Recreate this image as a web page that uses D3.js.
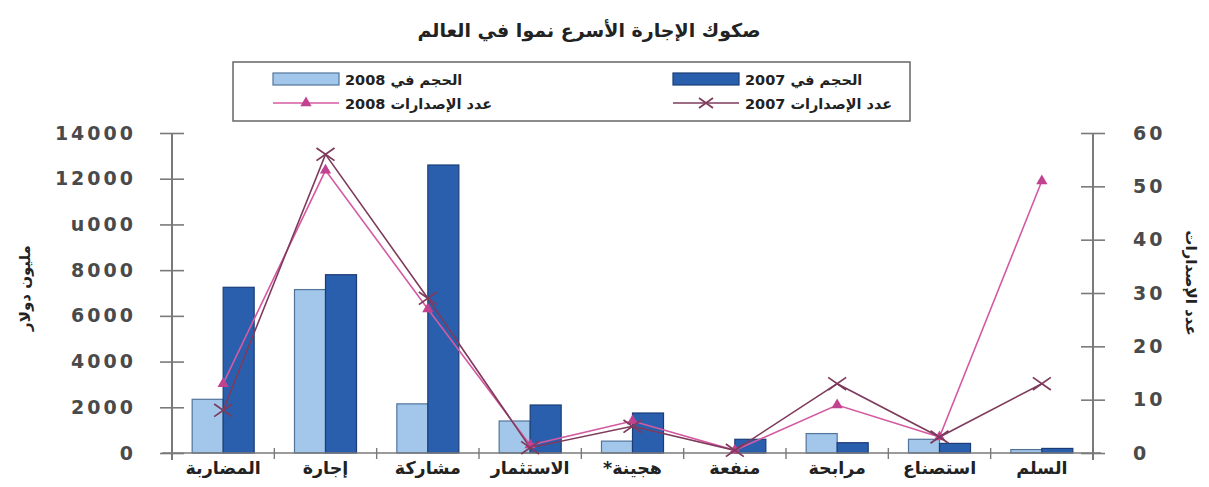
<!DOCTYPE html>
<html><head><meta charset="utf-8">
<script src="https://cdn.jsdelivr.net/npm/d3@7"></script>
<style>body{margin:0;background:#fff}svg{display:block}</style>
</head><body>
<svg id="chart" width="1209" height="487"></svg>
<script>
// Sukuk categories (left to right) and their values
const categories = ["المضاربة", "إجارة", "مشاركة", "الاستثمار", "هجينة*", "منفعة", "مرابحة", "استصناع", "السلم"];
const volume2008 = [2350, 7150, 2150, 1400, 520, 0, 850, 600, 150];
const volume2007 = [7250, 7800, 12600, 2100, 1750, 600, 450, 420, 200];
const issues2007 = [8, 56, 29, 1, 5, 0.5, 13, 3, 13];
const issues2008 = [13, 53, 27, 1.5, 6, 0.5, 9, 3, 51];
const leftTicks = [0, 2000, 4000, 6000, 8000, 10000, 12000, 14000];
const leftTickLabels = ["0", "2000", "4000", "6000", "8000", "u000", "12000", "14000"];
const rightTicks = [0, 10, 20, 30, 40, 50, 60];

const title = "صكوك الإجارة الأسرع نموا في العالم";
const leftTitle = "مليون دولار";
const rightTitle = "عدد الإصدارات";
const legendItems = [
  {key: "v2008", label: "الحجم في 2008"},
  {key: "v2007", label: "الحجم في 2007"},
  {key: "i2008", label: "عدد الإصدارات 2008"},
  {key: "i2007", label: "عدد الإصدارات 2007"}
];

const C = {
  light: "#a2c7ea", lightEdge: "#52749a",
  dark: "#2a5fae", darkEdge: "#1c3c78",
  line07: "#7e3b5c", line08: "#d45aa2", mark08: "#c2428f",
  axis: "#7a7a7a", tickText: "#4a4a4a", text: "#222"
};

const svg = d3.select("#chart");
const plotL = 172, plotR = 1093, plotT = 133, plotB = 453;
const font = "'DejaVu Sans', sans-serif";

const x = d3.scaleBand().domain(categories).range([plotL, plotR]);
const x1 = d3.scaleBand().domain(["v2008", "v2007"]).range([0, x.bandwidth()]).paddingOuter(0.65);
const yL = d3.scaleLinear().domain([0, 14000]).range([plotB, plotT]);
const yR = d3.scaleLinear().domain([0, 60]).range([plotB, plotT]);
const cx = d => x(d) + x.bandwidth() / 2;

// title
svg.append("text").attr("x", 589).attr("y", 37).attr("text-anchor", "middle")
  .attr("direction", "rtl").attr("font-family", font).attr("font-weight", "bold")
  .attr("font-size", 19).attr("fill", C.text).text(title);

// bars
const g = svg.append("g");
categories.forEach((c, i) => {
  [["v2008", volume2008[i], C.light, C.lightEdge], ["v2007", volume2007[i], C.dark, C.darkEdge]].forEach(([k, v, f, s]) => {
    if (v <= 0) return;
    g.append("rect")
      .attr("x", x(c) + x1(k)).attr("width", x1.bandwidth())
      .attr("y", yL(v)).attr("height", yL(0) - yL(v))
      .attr("fill", f).attr("stroke", s).attr("stroke-width", 1.2);
  });
});

// left axis
const axL = svg.append("g").attr("transform", `translate(${plotL},0)`)
  .call(d3.axisLeft(yL).tickValues(leftTicks).tickFormat((d, i) => leftTickLabels[i])
    .tickSizeInner(12).tickSizeOuter(0).tickPadding(24));
axL.select(".domain").attr("d", `M0,${plotT}V${plotB + 7}`).attr("stroke", C.axis).attr("stroke-width", 2);
axL.selectAll(".tick line").attr("x1", -12).attr("x2", 12).attr("stroke", C.axis).attr("stroke-width", 1.6);
axL.selectAll(".tick text").attr("font-family", font).attr("font-weight", "bold")
  .attr("font-size", 19).attr("letter-spacing", 3).attr("fill", C.tickText);

// right axis
const axR = svg.append("g").attr("transform", `translate(${plotR},0)`)
  .call(d3.axisRight(yR).tickValues(rightTicks).tickSizeInner(12).tickSizeOuter(0).tickPadding(28));
axR.select(".domain").attr("d", `M0,${plotT}V${plotB + 7}`).attr("stroke", C.axis).attr("stroke-width", 2);
axR.selectAll(".tick line").attr("x1", -12).attr("x2", 12).attr("stroke", C.axis).attr("stroke-width", 1.6);
axR.selectAll(".tick text").attr("font-family", font).attr("font-weight", "bold")
  .attr("font-size", 19).attr("letter-spacing", 3).attr("fill", C.tickText);

// bottom axis
const axB = svg.append("g").attr("transform", `translate(0,${plotB})`)
  .call(d3.axisBottom(x).tickSize(0).tickPadding(9));
axB.select(".domain").attr("d", `M${plotL - 10},0H${plotR + 8}`).attr("stroke", C.axis).attr("stroke-width", 1.6);
axB.selectAll(".tick text").attr("direction", "rtl").attr("font-family", font).attr("font-weight", "bold")
  .attr("font-size", 17.5).attr("fill", C.text);
const bounds = x.domain().map(d => x(d)).concat([plotR]);
axB.selectAll("line.sep").data(bounds).join("line").attr("class", "sep")
  .attr("x1", d => d).attr("x2", d => d).attr("y1", -5).attr("y2", 6)
  .attr("stroke", C.axis).attr("stroke-width", 1.4);

// lines
const line = d3.line().x((d, i) => cx(categories[i])).y(d => yR(d));
svg.append("path").datum(issues2008).attr("d", line).attr("fill", "none")
  .attr("stroke", C.line08).attr("stroke-width", 1.6);
svg.append("path").datum(issues2007).attr("d", line).attr("fill", "none")
  .attr("stroke", C.line07).attr("stroke-width", 1.6);

const triangle = d3.symbol().type(d3.symbolTriangle).size(55);
const cross = (gsel, px, py, r, col) => {
  gsel.append("path").attr("d", `M${px - r},${py - r * 0.7}L${px + r},${py + r * 0.7}M${px - r},${py + r * 0.7}L${px + r},${py - r * 0.7}`)
    .attr("stroke", col).attr("stroke-width", 1.8).attr("fill", "none");
};
issues2008.forEach((v, i) => {
  svg.append("path").attr("d", triangle)
    .attr("transform", `translate(${cx(categories[i])},${yR(v)})`).attr("fill", C.mark08);
});
const marks07 = svg.append("g");
issues2007.forEach((v, i) => cross(marks07, cx(categories[i]), yR(v), 9, C.line07));

// axis titles
svg.append("text").attr("transform", "translate(30,288) rotate(-90)").attr("text-anchor", "middle")
  .attr("direction", "rtl").attr("font-family", font).attr("font-weight", "bold")
  .attr("font-size", 15).attr("fill", C.text).text(leftTitle);
svg.append("text").attr("transform", "translate(1186,283) rotate(90)").attr("text-anchor", "middle")
  .attr("direction", "rtl").attr("font-family", font).attr("font-weight", "bold")
  .attr("font-size", 15).attr("fill", C.text).text(rightTitle);

// legend
const lg = svg.append("g");
lg.append("rect").attr("x", 233).attr("y", 62).attr("width", 677).attr("height", 59)
  .attr("fill", "none").attr("stroke", "#666").attr("stroke-width", 1.5);
const slots = {
  v2008: {x: 273, y: 79}, v2007: {x: 673, y: 79},
  i2008: {x: 273, y: 103}, i2007: {x: 673, y: 103}
};
legendItems.forEach(it => {
  const s = slots[it.key];
  if (it.key === "v2008" || it.key === "v2007") {
    const light = it.key === "v2008";
    lg.append("rect").attr("x", s.x).attr("y", s.y - 6).attr("width", 66).attr("height", 12)
      .attr("fill", light ? C.light : C.dark).attr("stroke", light ? C.lightEdge : C.darkEdge).attr("stroke-width", 1.2);
  } else {
    const is08 = it.key === "i2008";
    lg.append("line").attr("x1", s.x).attr("x2", s.x + 66).attr("y1", s.y).attr("y2", s.y)
      .attr("stroke", is08 ? C.line08 : C.line07).attr("stroke-width", 1.4);
    if (is08) lg.append("path").attr("d", triangle).attr("transform", `translate(${s.x + 33},${s.y})`).attr("fill", C.mark08);
    else cross(lg, s.x + 33, s.y, 7, C.line07);
  }
  const t = lg.append("text").attr("y", s.y + 6).attr("text-anchor", "middle").attr("direction", "rtl")
    .attr("font-family", font).attr("font-weight", "bold").attr("font-size", 14.5).attr("fill", C.text)
    .text(it.label);
  const w = t.node().getComputedTextLength();
  t.attr("x", s.x + 72 + w / 2);
});
</script>
</body></html>
